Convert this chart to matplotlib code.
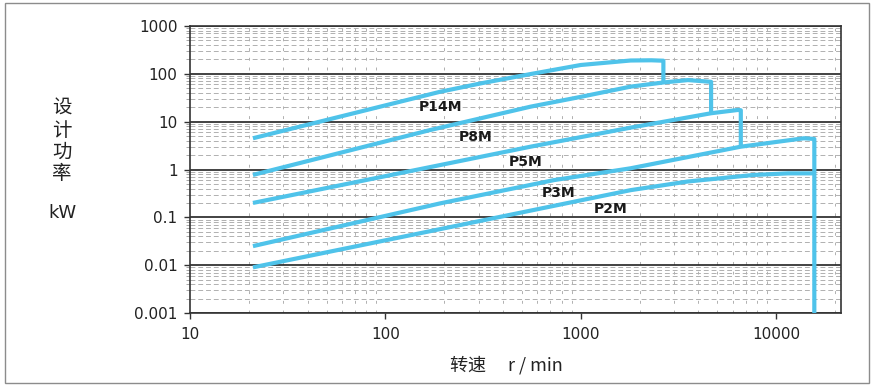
import numpy as np
import matplotlib

matplotlib.use('Agg')
import matplotlib.pyplot as plt
from matplotlib.patches import Rectangle

plt.rcParams['font.family'] = ['DejaVu Sans', 'Noto Sans CJK SC']

# belt curves: rpm -> design power (kW)
p14m_rpm = [21, 190, 307, 554, 1000, 1800, 2300, 2650, 2650]
p14m_kw = [4.5, 42, 63, 99, 153, 190, 192, 188, 68]

p8m_rpm = [21, 170, 554, 1000, 1800, 2650, 3540, 4650, 4650]
p8m_kw = [0.77, 6.7, 20.6, 33, 54, 66, 74, 68, 15]

p5m_rpm = [21, 191, 554, 1800, 4650, 6400, 6600, 6600]
p5m_kw = [0.2, 1.24, 3.0, 7.5, 15, 17.6, 17.3, 3.25]

p3m_rpm = [21, 191, 730, 1800, 6600, 13900, 15700, 15700]
p3m_kw = [0.025, 0.196, 0.6, 1.06, 3.0, 4.5, 4.35, 0.001]

p2m_rpm = [21, 180, 1800, 3520, 7700, 11500, 15700]
p2m_kw = [0.009, 0.054, 0.37, 0.56, 0.77, 0.83, 0.83]

curve_names = ["P14M", "P8M", "P5M", "P3M", "P2M"]
label_rpm = [191, 290, 522, 771, 1426]
label_kw = [20.3, 4.77, 1.44, 0.322, 0.149]

x_ticks = [10, 100, 1000, 10000]
y_ticks = [0.001, 0.01, 0.1, 1, 10, 100, 1000]
y_labels = ["0.001", "0.01", "0.1", "1", "10", "100", "1000"]

blue = '#4fc3ea'

fig = plt.figure(figsize=(8.75, 3.85), dpi=100)
ax = fig.add_axes([190 / 875, 1 - 313 / 385, (841 - 190) / 875, (313 - 26) / 385])

for rpm, kw in [(p14m_rpm, p14m_kw), (p8m_rpm, p8m_kw), (p5m_rpm, p5m_kw),
                (p3m_rpm, p3m_kw), (p2m_rpm, p2m_kw)]:
    ax.plot(rpm, kw, color=blue, lw=3.0, solid_joinstyle='round',
            solid_capstyle='butt', zorder=3)

for name, x, y in zip(curve_names, label_rpm, label_kw):
    ax.text(x, y, name, ha='center', va='center', fontsize=10,
            fontweight='bold', color='#1a1a1a', zorder=4)

ax.set_xscale('log')
ax.set_yscale('log')
ax.set_xlim(10, 21500)
ax.set_ylim(0.001, 1000)

ax.set_xticks(x_ticks)
ax.set_xticklabels([str(t) for t in x_ticks])
ax.set_yticks(y_ticks)
ax.set_yticklabels(y_labels)

ax.grid(which='major', axis='y', color='#222222', lw=1.2, zorder=1)
ax.grid(which='minor', axis='y', color='#b0b0b0', lw=0.7,
        linestyle=(0, (5, 3)), zorder=0)
ax.grid(which='minor', axis='x', color='#b0b0b0', lw=0.7,
        linestyle=(0, (3, 7)), zorder=0)
ax.grid(which='major', axis='x', visible=False)

ax.tick_params(which='major', direction='out', length=4, width=1,
               color='#333333', labelsize=11, labelcolor='#222222')
ax.tick_params(axis='y', which='major', pad=5)
ax.tick_params(axis='x', which='major', pad=6)
ax.tick_params(axis='x', which='minor', length=0)
ax.tick_params(axis='y', which='minor', length=3, color='#999999')

for s in ax.spines.values():
    s.set_color('#333333')
    s.set_linewidth(1.2)

# stacked y label
fig.text(62 / 875, 1 - 141 / 385, "设\n计\n功\n率", ha='center', va='center',
         fontsize=14, linespacing=1.05, color='#222222',
         family=['Noto Sans CJK SC', 'DejaVu Sans'])
fig.text(62 / 875, 1 - 213 / 385, "kW", ha='center', va='center',
         fontsize=13, color='#222222')
fig.text(506 / 875, 1 - 365 / 385, "转速　 r / min", ha='center', va='center',
         fontsize=13, color='#222222',
         family=['Noto Sans CJK SC', 'DejaVu Sans'])

# frame around the whole figure
fig.patches.append(Rectangle((5 / 875, 2 / 385), 864 / 875, 380 / 385,
                             transform=fig.transFigure, fill=False,
                             edgecolor='#8c8c8c', lw=1))

fig.savefig('out.png', dpi=100)
